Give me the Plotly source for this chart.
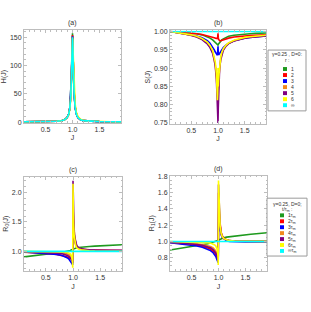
import plotly.graph_objects as go

# ---------------- data ----------------
J = [0.1, 0.2, 0.3, 0.4, 0.5, 0.6, 0.7, 0.8, 0.85, 0.9, 0.93, 0.95, 0.97, 0.98, 0.99, 0.995,
     1.0, 1.005, 1.01, 1.02, 1.03, 1.05, 1.07, 1.1, 1.15, 1.2, 1.3, 1.4, 1.5, 1.6, 1.7, 1.8, 1.9]

series_names = ["1", "2", "3", "4", "5", "6", "∞"]
time_names = ["1τ<sub>m</sub>", "2τ<sub>m</sub>", "3τ<sub>m</sub>", "4τ<sub>m</sub>",
              "5τ<sub>m</sub>", "6τ<sub>m</sub>", "∞τ<sub>m</sub>"]
colors = ["#1e9a1e", "#ff0000", "#0000ff", "#f28a1e", "#800080", "#ffff00", "#00ffff"]

# (a) H(J)
H_green = [0.3, 0.4, 0.5, 0.6, 0.8, 1.0, 1.5, 2.5, 4, 8, 14, 25, 50, 80, 125, 148,
           157, 146, 120, 80, 52, 26, 15, 8, 4, 2.5, 1.5, 1.0, 0.8, 0.6, 0.5, 0.4, 0.3]
H_red = [0.3, 0.4, 0.5, 0.6, 0.8, 1.0, 1.5, 2.5, 4, 8, 14, 25, 49, 79, 124, 146,
         154, 145, 119, 79, 51, 26, 15, 8, 4, 2.5, 1.5, 1.0, 0.8, 0.6, 0.5, 0.4, 0.3]
H_blue = [0.3, 0.4, 0.5, 0.6, 0.8, 1.0, 1.5, 2.5, 4, 8, 14, 25, 49, 78, 122, 144,
          152, 143, 118, 79, 51, 26, 15, 8, 4, 2.5, 1.5, 1.0, 0.8, 0.6, 0.5, 0.4, 0.3]
H_orange = [0.3, 0.4, 0.5, 0.6, 0.8, 1.0, 1.5, 2.5, 4, 8, 14, 25, 48, 77, 120, 143,
            151, 143, 120, 84, 56, 28, 16, 9, 4, 2.5, 1.5, 1.0, 0.8, 0.6, 0.5, 0.4, 0.3]
H_purple = [0.3, 0.4, 0.5, 0.6, 0.8, 1.0, 1.5, 2.5, 4, 8, 14, 25, 48, 77, 120, 142,
            150, 142, 119, 82, 54, 27, 15, 8, 4, 2.5, 1.5, 1.0, 0.8, 0.6, 0.5, 0.4, 0.3]
H_yellow = [0.3, 0.4, 0.5, 0.6, 0.8, 1.0, 1.5, 2.5, 4, 8, 13, 23, 44, 70, 110, 135,
            148, 145, 128, 95, 65, 32, 18, 10, 5, 3, 1.8, 1.2, 0.9, 0.7, 0.5, 0.4, 0.3]
H_cyan = [0.3, 0.4, 0.5, 0.6, 0.8, 1.0, 1.5, 2.5, 4, 8, 14, 25, 48, 78, 120, 142,
          150, 140, 115, 76, 48, 25, 14, 8, 4, 2.5, 1.5, 1.0, 0.8, 0.6, 0.5, 0.4, 0.3]

# (b) S(J)
S_green = [1.000, 0.999, 0.998, 0.997, 0.996, 0.994, 0.991, 0.986, 0.982, 0.977, 0.973, 0.970,
           0.967, 0.966, 0.965, 0.965, 0.963, 0.965, 0.966, 0.968, 0.970, 0.974, 0.977, 0.980,
           0.984, 0.987, 0.990, 0.992, 0.993, 0.994, 0.995, 0.996, 0.996]
S_red = [1.000, 0.999, 0.998, 0.997, 0.996, 0.994, 0.992, 0.989, 0.987, 0.985, 0.983, 0.982,
         0.981, 0.980, 0.981, 0.985, 0.995, 0.984, 0.979, 0.976, 0.975, 0.975, 0.976, 0.978,
         0.980, 0.982, 0.985, 0.987, 0.988, 0.989, 0.990, 0.991, 0.991]
S_blue = [1.000, 0.998, 0.996, 0.994, 0.991, 0.988, 0.983, 0.975, 0.968, 0.958, 0.950, 0.944,
          0.938, 0.936, 0.935, 0.945, 0.960, 0.942, 0.936, 0.937, 0.940, 0.945, 0.950, 0.956,
          0.963, 0.968, 0.975, 0.979, 0.982, 0.984, 0.986, 0.987, 0.988]
S_orange = [1.000, 0.998, 0.996, 0.993, 0.990, 0.986, 0.979, 0.968, 0.958, 0.943, 0.926, 0.908,
            0.875, 0.845, 0.820, 0.830, 0.860, 0.840, 0.850, 0.880, 0.900, 0.925, 0.940, 0.951,
            0.962, 0.968, 0.975, 0.980, 0.983, 0.985, 0.987, 0.988, 0.989]
S_purple = [1.000, 0.998, 0.996, 0.993, 0.989, 0.985, 0.978, 0.966, 0.956, 0.940, 0.922, 0.903,
            0.870, 0.840, 0.800, 0.775, 0.750, 0.790, 0.835, 0.875, 0.898, 0.922, 0.937, 0.949,
            0.960, 0.967, 0.974, 0.979, 0.982, 0.984, 0.986, 0.987, 0.988]
S_yellow = [1.000, 0.998, 0.997, 0.994, 0.991, 0.987, 0.981, 0.971, 0.962, 0.948, 0.932, 0.915,
            0.885, 0.855, 0.812, 0.830, 0.900, 0.850, 0.860, 0.885, 0.905, 0.928, 0.942, 0.953,
            0.963, 0.969, 0.976, 0.981, 0.984, 0.986, 0.988, 0.989, 0.990]
S_cyan = [1.000, 1.000, 1.000, 1.000, 1.000, 1.000, 1.000, 1.000, 1.000, 1.000, 1.000, 1.000,
          1.000, 1.000, 1.000, 1.000, 1.000, 1.000, 1.000, 1.000, 1.000, 1.000, 1.000, 1.000,
          1.000, 1.000, 1.000, 1.000, 1.000, 1.000, 1.000, 1.000, 1.000]

# (c) R0(J)
R0_green = [0.905, 0.915, 0.925, 0.935, 0.945, 0.957, 0.970, 0.985, 0.992, 1.000, 1.008, 1.015,
            1.025, 1.030, 1.035, 1.038, 1.040, 1.042, 1.045, 1.050, 1.053, 1.058, 1.062, 1.066,
            1.072, 1.076, 1.082, 1.088, 1.093, 1.098, 1.103, 1.108, 1.112]
R0_red = [0.985, 0.982, 0.978, 0.973, 0.966, 0.958, 0.948, 0.932, 0.920, 0.903, 0.888, 0.875,
          0.860, 0.852, 0.845, 0.850, 1.200, 1.330, 1.300, 1.240, 1.180, 1.110, 1.080, 1.055,
          1.040, 1.033, 1.026, 1.023, 1.021, 1.020, 1.019, 1.018, 1.017]
R0_blue = [0.990, 0.985, 0.980, 0.975, 0.968, 0.960, 0.948, 0.928, 0.912, 0.888, 0.862, 0.840,
           0.808, 0.790, 0.775, 0.780, 1.250, 1.420, 1.380, 1.300, 1.220, 1.130, 1.090, 1.060,
           1.040, 1.030, 1.020, 1.016, 1.015, 1.014, 1.013, 1.012, 1.012]
R0_orange = [0.995, 0.994, 0.993, 0.991, 0.989, 0.986, 0.982, 0.975, 0.968, 0.955, 0.942, 0.928,
             0.905, 0.888, 0.865, 0.850, 1.750, 1.650, 1.520, 1.350, 1.250, 1.140, 1.090, 1.055,
             1.035, 1.025, 1.016, 1.012, 1.010, 1.008, 1.007, 1.006, 1.005]
R0_purple = [0.993, 0.991, 0.989, 0.986, 0.982, 0.977, 0.970, 0.958, 0.948, 0.930, 0.912, 0.895,
             0.865, 0.845, 0.820, 0.800, 2.200, 1.750, 1.550, 1.360, 1.250, 1.140, 1.090, 1.060,
             1.040, 1.030, 1.020, 1.015, 1.013, 1.011, 1.010, 1.009, 1.008]
R0_yellow = [1.000, 1.000, 0.999, 0.999, 0.998, 0.997, 0.995, 0.992, 0.988, 0.980, 0.970, 0.958,
             0.930, 0.895, 0.830, 0.720, 2.150, 1.700, 1.480, 1.280, 1.180, 1.100, 1.060, 1.040,
             1.025, 1.018, 1.010, 1.006, 1.004, 1.003, 1.003, 1.002, 1.002]
R0_cyan = [1.000, 1.000, 1.000, 1.000, 1.000, 1.000, 1.000, 1.000, 1.000, 1.000, 1.000, 1.000,
           1.000, 1.000, 1.000, 1.000, 1.000, 1.000, 1.000, 1.000, 1.000, 1.000, 1.000, 1.000,
           1.000, 1.000, 1.000, 1.000, 1.000, 1.000, 1.000, 1.000, 1.000]

# (d) R1(J)
R1_green = [0.895, 0.905, 0.915, 0.925, 0.935, 0.945, 0.958, 0.972, 0.980, 0.988, 0.995, 1.000,
            1.008, 1.012, 1.015, 1.018, 1.020, 1.022, 1.025, 1.030, 1.033, 1.038, 1.042, 1.047,
            1.053, 1.058, 1.066, 1.074, 1.081, 1.088, 1.095, 1.102, 1.108]
R1_red = [0.988, 0.983, 0.977, 0.970, 0.962, 0.953, 0.940, 0.920, 0.905, 0.882, 0.860, 0.840,
          0.808, 0.790, 0.775, 0.770, 1.300, 1.420, 1.380, 1.280, 1.200, 1.110, 1.070, 1.040,
          1.020, 1.012, 1.008, 1.007, 1.006, 1.006, 1.005, 1.005, 1.005]
R1_blue = [0.985, 0.978, 0.972, 0.965, 0.955, 0.945, 0.930, 0.905, 0.888, 0.862, 0.838, 0.815,
           0.780, 0.760, 0.745, 0.740, 1.150, 1.310, 1.280, 1.200, 1.140, 1.080, 1.050, 1.030,
           1.010, 1.000, 0.995, 0.994, 0.993, 0.993, 0.993, 0.993, 0.993]
R1_orange = [0.992, 0.989, 0.985, 0.981, 0.976, 0.970, 0.962, 0.948, 0.938, 0.920, 0.902, 0.885,
             0.855, 0.835, 0.810, 0.790, 1.600, 1.520, 1.420, 1.280, 1.190, 1.100, 1.060, 1.035,
             1.018, 1.010, 1.005, 1.004, 1.003, 1.002, 1.002, 1.001, 1.001]
R1_purple = [0.990, 0.986, 0.982, 0.977, 0.970, 0.962, 0.952, 0.935, 0.922, 0.900, 0.878, 0.858,
             0.825, 0.805, 0.780, 0.760, 1.700, 1.580, 1.450, 1.300, 1.200, 1.100, 1.060, 1.035,
             1.018, 1.010, 1.005, 1.004, 1.003, 1.002, 1.002, 1.001, 1.001]
R1_yellow = [1.000, 0.999, 0.998, 0.997, 0.996, 0.994, 0.991, 0.985, 0.980, 0.970, 0.958, 0.945,
             0.920, 0.890, 0.820, 0.710, 1.750, 1.620, 1.480, 1.300, 1.190, 1.100, 1.060, 1.035,
             1.018, 1.010, 1.005, 1.004, 1.003, 1.002, 1.002, 1.001, 1.001]
R1_cyan = [1.000, 1.000, 1.000, 1.000, 1.000, 1.000, 1.000, 1.000, 1.000, 1.000, 1.000, 1.000,
           1.000, 1.000, 1.000, 1.000, 1.000, 1.000, 1.000, 1.000, 1.000, 1.000, 1.000, 1.000,
           1.000, 1.000, 1.000, 1.000, 1.000, 1.000, 1.000, 1.000, 1.000]

panels = [
    ("x", "y", [H_green, H_red, H_blue, H_orange, H_purple, H_yellow, H_cyan]),
    ("x2", "y2", [S_green, S_red, S_blue, S_orange, S_purple, S_yellow, S_cyan]),
    ("x3", "y3", [R0_green, R0_red, R0_blue, R0_orange, R0_purple, R0_yellow, R0_cyan]),
    ("x4", "y4", [R1_green, R1_red, R1_blue, R1_orange, R1_purple, R1_yellow, R1_cyan]),
]

W, Hh = 311, 312
def px_x(p): return p / W
def px_y(p): return 1 - p / Hh

fig = go.Figure()
for xa, ya, ser in panels:
    for vals, col in zip(ser, colors):
        fig.add_trace(go.Scatter(x=J, y=vals, mode="lines", xaxis=xa, yaxis=ya,
                                 line=dict(color=col, width=1.6), showlegend=False,
                                 hoverinfo="skip"))

FONT = "Liberation Sans, Arial, sans-serif"
TXT = "#333333"
tickfont = dict(size=7, color=TXT, family=FONT)
frame = dict(showline=True, linecolor="#bdbdbd", linewidth=1, mirror="allticks",
             ticks="inside", ticklen=3, tickcolor="#bdbdbd", showgrid=False,
             zeroline=False, tickfont=tickfont)

def xax(domain, anchor):
    d = dict(frame)
    d.update(domain=domain, anchor=anchor, range=[0.1, 1.9],
             tickvals=[0.5, 1.0, 1.5], ticktext=["0.5", "1.0", "1.5"],
             title=dict(text="J", font=dict(size=7, color=TXT, family=FONT), standoff=3))
    d["minor"] = dict(ticks="inside", ticklen=1.5, tickcolor="#bdbdbd", dtick=0.1)
    return d

def yax(domain, anchor, rng, tv, tt, title, mdt):
    d = dict(frame)
    d.update(domain=domain, anchor=anchor, range=rng, tickvals=tv, ticktext=tt,
             title=dict(text=title, font=dict(size=7, color=TXT, family=FONT), standoff=2))
    d["minor"] = dict(ticks="inside", ticklen=1.5, tickcolor="#bdbdbd", dtick=mdt)
    return d

xa_dom = [px_x(24), px_x(121)]
xb_dom = [px_x(170), px_x(266)]
xc_dom = [px_x(24), px_x(122)]
xd_dom = [px_x(170), px_x(267)]
ya_dom = [px_y(122), px_y(28)]
yb_dom = [px_y(123), px_y(28)]
yc_dom = [px_y(273), px_y(177)]
yd_dom = [px_y(273), px_y(176)]

fig.update_layout(
    width=W, height=Hh, margin=dict(l=0, r=0, t=0, b=0),
    paper_bgcolor="white", plot_bgcolor="white",
    font=dict(family=FONT, size=7, color=TXT),
    xaxis=xax(xa_dom, "y"),
    yaxis=yax(ya_dom, "x", [-1, 162], [0, 50, 100, 150], ["0", "50", "100", "150"], "H(J)", 10),
    xaxis2=xax(xb_dom, "y2"),
    yaxis2=yax(yb_dom, "x2", [0.748, 1.003], [0.75, 0.80, 0.85, 0.90, 0.95, 1.00],
               ["0.75", "0.80", "0.85", "0.90", "0.95", "1.00"], "S(J)", 0.01),
    xaxis3=xax(xc_dom, "y3"),
    yaxis3=yax(yc_dom, "x3", [0.67, 2.27], [1.0, 1.5, 2.0], ["1.0", "1.5", "2.0"],
               "R<sub>0</sub>(J)", 0.1),
    xaxis4=xax(xd_dom, "y4"),
    yaxis4=yax(yd_dom, "x4", [0.64, 1.81], [0.8, 1.0, 1.2, 1.4, 1.6, 1.8],
               ["0.8", "1.0", "1.2", "1.4", "1.6", "1.8"], "R<sub>1</sub>(J)", 0.05),
)

# panel labels
ann = []
for lab, dom, ytop in [("(a)", xa_dom, ya_dom[1]), ("(b)", xb_dom, yb_dom[1]),
                       ("(c)", xc_dom, yc_dom[1]), ("(d)", xd_dom, yd_dom[1])]:
    ann.append(dict(text=lab, x=(dom[0] + dom[1]) / 2, y=ytop, xref="paper", yref="paper",
                    xanchor="center", yanchor="bottom", showarrow=False, yshift=1,
                    font=dict(size=7, color=TXT, family=FONT)))

shapes = []
def make_legend(box, title_lines, title_ys, labels, item_y0, step, sq_x, lab_x):
    x0, y0, x1, y1 = box
    shapes.append(dict(type="rect", xref="paper", yref="paper", x0=px_x(x0), x1=px_x(x1),
                       y0=px_y(y1), y1=px_y(y0), line=dict(color="#9a9a9a", width=1),
                       fillcolor="white", layer="above"))
    cx = px_x((x0 + x1) / 2)
    for t, ty in zip(title_lines, title_ys):
        ann.append(dict(text=t, x=cx, y=px_y(ty), xref="paper", yref="paper",
                        xanchor="center", yanchor="middle", showarrow=False,
                        font=dict(size=5, color=TXT, family=FONT)))
    for i, (lab, col) in enumerate(zip(labels, colors)):
        yc = item_y0 + i * step
        shapes.append(dict(type="rect", xref="paper", yref="paper",
                           x0=px_x(sq_x - 2), x1=px_x(sq_x + 2),
                           y0=px_y(yc + 2), y1=px_y(yc - 2),
                           line=dict(width=0), fillcolor=col, layer="above"))
        ann.append(dict(text=lab, x=px_x(lab_x), y=px_y(yc), xref="paper", yref="paper",
                        xanchor="left", yanchor="middle", showarrow=False,
                        font=dict(size=5, color=TXT, family=FONT)))

make_legend((268, 48, 306, 110), ["γ=0.25 , D=0:", "r :"], [52.5, 58.5],
            series_names, 67.3, 6.15, 285, 289)
make_legend((267, 199, 307, 258), ["γ=0.25, D=0;", "t/τ<sub>m</sub> :"], [205, 211],
            time_names, 216.5, 6.05, 282, 286)

fig.update_layout(annotations=ann, shapes=shapes)
fig.write_html("out.html", config={"displayModeBar": False},
               post_script="document.body.style.margin='0';document.body.style.overflow='hidden';")
